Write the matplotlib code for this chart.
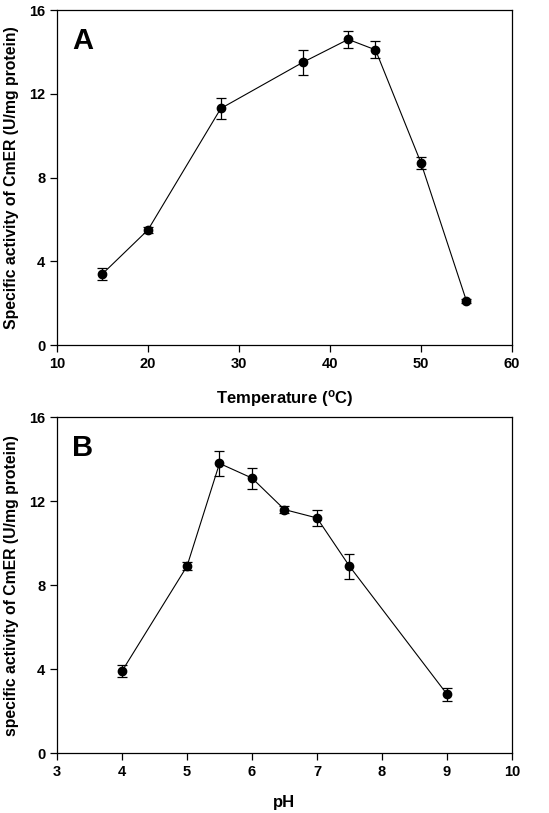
import matplotlib
matplotlib.use('Agg')
import matplotlib.pyplot as plt

plt.rcParams['font.family'] = ['Liberation Sans', 'DejaVu Sans']
plt.rcParams['font.weight'] = 'bold'
plt.rcParams['mathtext.fontset'] = 'custom'
plt.rcParams['mathtext.rm'] = 'Liberation Sans:bold'
plt.rcParams['mathtext.default'] = 'rm'

# panel A: temperature
temp = [15, 20, 28, 37, 42, 45, 50, 55]
act_temp = [3.4, 5.5, 11.3, 13.5, 14.6, 14.1, 8.7, 2.1]
err_temp = [0.3, 0.15, 0.5, 0.6, 0.4, 0.4, 0.3, 0.1]

# panel B: pH
ph = [4, 5, 5.5, 6, 6.5, 7, 7.5, 9]
act_ph = [3.9, 8.9, 13.8, 13.1, 11.6, 11.2, 8.9, 2.8]
err_ph = [0.3, 0.18, 0.6, 0.5, 0.17, 0.4, 0.6, 0.3]

fig = plt.figure(figsize=(5.49, 8.13), dpi=100)
ax1 = fig.add_axes([0.1038, 0.5756, 0.8288, 0.412])
ax2 = fig.add_axes([0.1038, 0.0738, 0.8288, 0.413])


def draw(ax, x, y, e, xlim, xticks, xlabel, ylabel, letter):
    ax.errorbar(x, y, yerr=e, fmt='o-', color='black', ms=6, lw=0.8,
                elinewidth=0.9, capsize=3.5, capthick=0.9)
    ax.set_xlim(*xlim)
    ax.set_ylim(0, 16)
    ax.set_xticks(xticks)
    ax.set_yticks([0, 4, 8, 12, 16])
    ax.tick_params(direction='out', length=5, width=0.9, labelsize=10.5,
                   top=False, right=False)
    for s in ax.spines.values():
        s.set_linewidth(0.9)
    ax.set_xlabel(xlabel, fontsize=12, fontweight='bold', labelpad=12)
    ax.set_ylabel(ylabel, fontsize=11.3, fontweight='bold', labelpad=7)
    ax.text(0.033, 0.95, letter, transform=ax.transAxes, fontsize=21,
            fontweight='bold', va='top', ha='left')


draw(ax1, temp, act_temp, err_temp, (10, 60), range(10, 61, 10),
     r'Temperature ($^{o}$C)', 'Specific activity of CmER (U/mg protein)', 'A')
draw(ax2, ph, act_ph, err_ph, (3, 10), range(3, 11),
     'pH', 'specific activity of CmER (U/mg protein)', 'B')

fig.savefig('out.png', dpi=100)
